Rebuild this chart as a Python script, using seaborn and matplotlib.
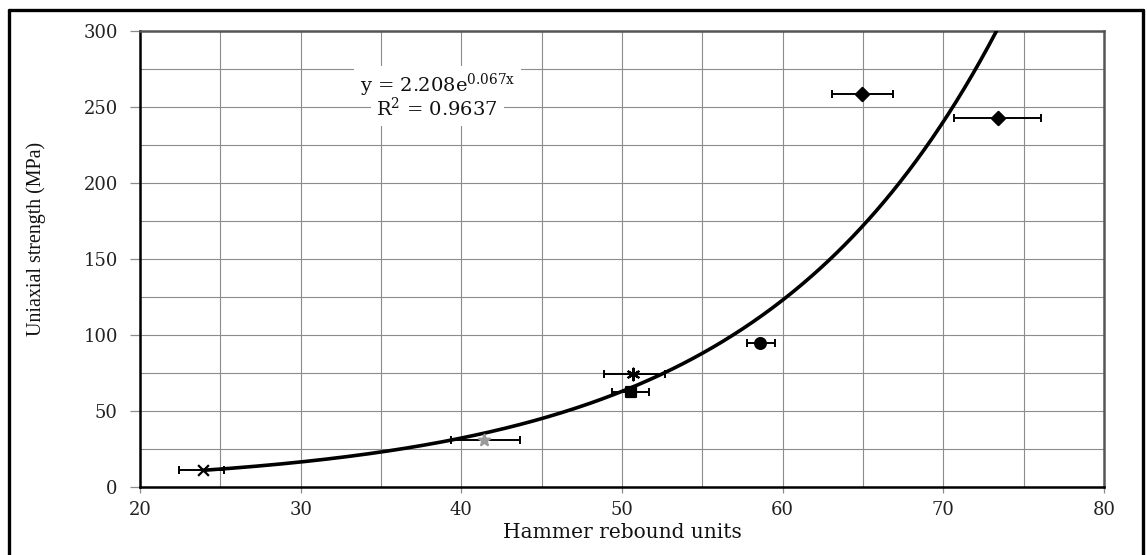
import numpy as np
import pandas as pd
import matplotlib
matplotlib.use("Agg")
import matplotlib.pyplot as plt
from matplotlib.lines import Line2D
import seaborn as sns

# Rebound hammer readings (mean and spread) vs. uniaxial compressive strength
rebound = [23.9, 41.4, 50.7, 50.55, 58.6, 64.95, 73.4]
rebound_err_lo = [1.5, 2.05, 1.8, 1.15, 0.8, 1.9, 2.75]
rebound_err_hi = [1.3, 2.25, 2.0, 1.15, 0.9, 1.9, 2.65]
strength = [11.2, 31.0, 74.5, 62.5, 95.0, 258.5, 242.5]
markers = ["x", "*", (6, 2, 0), "s", "o", "D", "D"]
marker_colors = ["black", "#9a9a9a", "black", "black", "black", "black", "black"]
marker_sizes = [60, 70, 70, 55, 60, 45, 45]

# Exponential trend line y = a * exp(b * x)
fit_a = 2.208
fit_b = 0.067
fit_r2 = 0.9637

x_ticks = [20, 30, 40, 50, 60, 70, 80]
y_ticks = [0, 50, 100, 150, 200, 250, 300]

sns.set_theme(style="white")
plt.rcParams["font.family"] = ["DejaVu Serif"]
plt.rcParams["mathtext.fontset"] = "dejavuserif"

fig = plt.figure(figsize=(11.47, 5.55), dpi=100)
ax = fig.add_axes([140 / 1147, 68 / 555, 964 / 1147, 456 / 555])

# grid every 5 units / 25 MPa
ax.set_xticks(np.arange(20, 81, 5), minor=True)
ax.set_yticks(np.arange(0, 301, 25), minor=True)
ax.grid(True, which="both", color="#8c8c8c", linewidth=0.8)
ax.set_axisbelow(True)

# trend curve over the range of the data
curve_x = np.linspace(min(rebound), max(rebound), 400)
curve = pd.DataFrame({"x": curve_x, "y": fit_a * np.exp(fit_b * curve_x)})
sns.lineplot(data=curve, x="x", y="y", ax=ax, color="black", linewidth=2.6, zorder=3)

# horizontal error bars
ax.errorbar(rebound, strength, xerr=[rebound_err_lo, rebound_err_hi], fmt="none",
            ecolor="black", elinewidth=1.4, capsize=3.2, capthick=1.4, zorder=4)

pts = pd.DataFrame({"x": rebound, "y": strength})
for i in range(len(rebound)):
    sns.scatterplot(data=pts.iloc[[i]], x="x", y="y", ax=ax, marker=markers[i],
                    s=marker_sizes[i], color=marker_colors[i],
                    edgecolor=marker_colors[i], linewidth=1.6, zorder=5, legend=False)

eq_kw = dict(ha="center", va="center", fontsize=14, color="#111111", zorder=6,
             bbox=dict(facecolor="white", edgecolor="none", pad=4))
ax.text(38.5, 264.5, r"y = 2.208e$^{\mathrm{0.067x}}$", **eq_kw)
ax.text(38.5, 249, r"R$^{2}$ = 0.9637", **eq_kw)

ax.set_xlim(20, 80)
ax.set_ylim(0, 300)
ax.set_xticks(x_ticks)
ax.set_yticks(y_ticks)
ax.set_xticklabels([str(t) for t in x_ticks])
ax.set_yticklabels([str(t) for t in y_ticks])
ax.tick_params(axis="y", which="major", direction="out", length=7, width=0.9,
               color="#8c8c8c", pad=9, labelsize=13, labelcolor="#222222", left=True)
ax.tick_params(axis="x", which="major", direction="out", length=4, width=0.9,
               color="#8c8c8c", pad=6, labelsize=13, labelcolor="#222222", bottom=True)
ax.tick_params(which="minor", length=0)

for side in ["left", "bottom"]:
    ax.spines[side].set_color("black")
    ax.spines[side].set_linewidth(1.8)
for side in ["top", "right"]:
    ax.spines[side].set_color("#555555")
    ax.spines[side].set_linewidth(1.8)

ax.set_xlabel("Hammer rebound units", fontsize=14.5, color="#111111", va="center")
ax.set_ylabel("Uniaxial strength (MPa)", fontsize=14.4, color="#111111",
              family=["Liberation Serif"])
ax.xaxis.set_label_coords(0.5, -0.1)
ax.yaxis.set_label_coords(-0.097, 0.545)

# outer frame (left, top, right edges)
frame_kw = dict(color="black", linewidth=2.4, transform=fig.transFigure)
fig.add_artist(Line2D([9 / 1147, 9 / 1147], [-0.01, 1 - 10 / 555], **frame_kw))
fig.add_artist(Line2D([9 / 1147, 1143 / 1147], [1 - 10 / 555, 1 - 10 / 555], **frame_kw))
fig.add_artist(Line2D([1143 / 1147, 1143 / 1147], [-0.01, 1 - 10 / 555], **frame_kw))

fig.savefig("out.png", dpi=100, facecolor="white")
